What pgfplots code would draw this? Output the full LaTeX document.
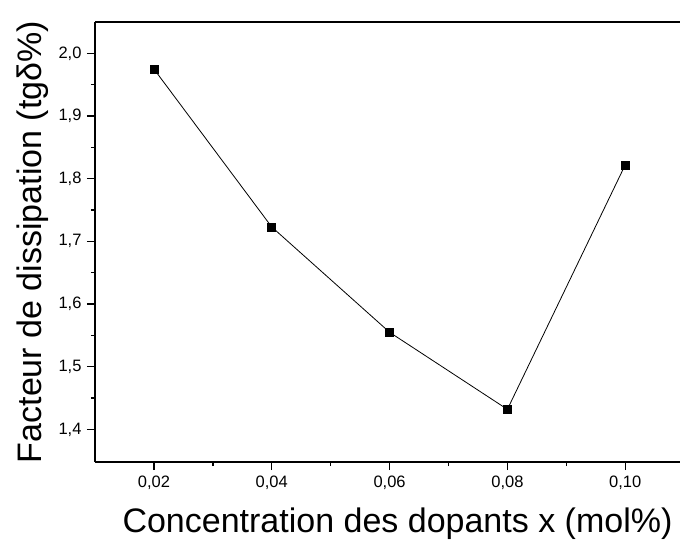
\documentclass[border=0pt]{standalone}
\usepackage{pgfplots}
\pgfplotsset{compat=1.18}
\usepackage{fontspec}
\setmainfont{Liberation Sans}

\begin{document}
\begin{tikzpicture}
  \begin{axis}[
      at={(0pt,0pt)}, anchor=south west,
      scale only axis,
      width=585pt, height=440pt,
      xmin=0.01, xmax=0.1093,
      ymin=1.348, ymax=2.05,
      axis x line=box, axis y line=left,
      x axis line style={-, line width=1.6pt},
      y axis line style={-, line width=1.6pt},
      xtick={0.02,0.04,0.06,0.08,0.10},
      ytick={1.4,1.5,1.6,1.7,1.8,1.9,2.0},
      minor x tick num=1, minor y tick num=1,
      xtick pos=bottom,
      tick align=outside,
      major tick length=8pt, minor tick length=4pt,
      every tick/.style={black, line width=1.4pt},
      /pgf/number format/assume math mode=true,
      /pgf/number format/use comma,
      scaled x ticks=false, scaled y ticks=false,
      tick label style={font=\fontsize{16.5}{20}\selectfont},
      xticklabel style={/pgf/number format/fixed, /pgf/number format/fixed zerofill, /pgf/number format/precision=2, yshift=-2pt},
      yticklabel style={/pgf/number format/fixed, /pgf/number format/fixed zerofill, /pgf/number format/precision=1, xshift=-2pt},
      xlabel={Concentration des dopants x (mol\%)},
      ylabel={Facteur de dissipation (tg\symbol{"03B4}\%)},
      label style={font=\fontsize{34}{40}\selectfont},
      xlabel style={at={(rel axis cs:0.5,0)}, anchor=base, yshift=-70pt, xshift=10pt},
      ylabel style={at={(rel axis cs:0,0.5)}, anchor=base, yshift=53pt},
    ]
    \addplot[black, line width=0.8pt, mark=square*, mark size=4pt, mark options={solid, fill=black}]
      coordinates {(0.02,1.975) (0.04,1.723) (0.06,1.555) (0.08,1.432) (0.10,1.822)};
  \end{axis}
  \pgfresetboundingbox
  \path[use as bounding box] (-95pt,-80pt) rectangle (585pt,462pt);
\end{tikzpicture}
\end{document}
